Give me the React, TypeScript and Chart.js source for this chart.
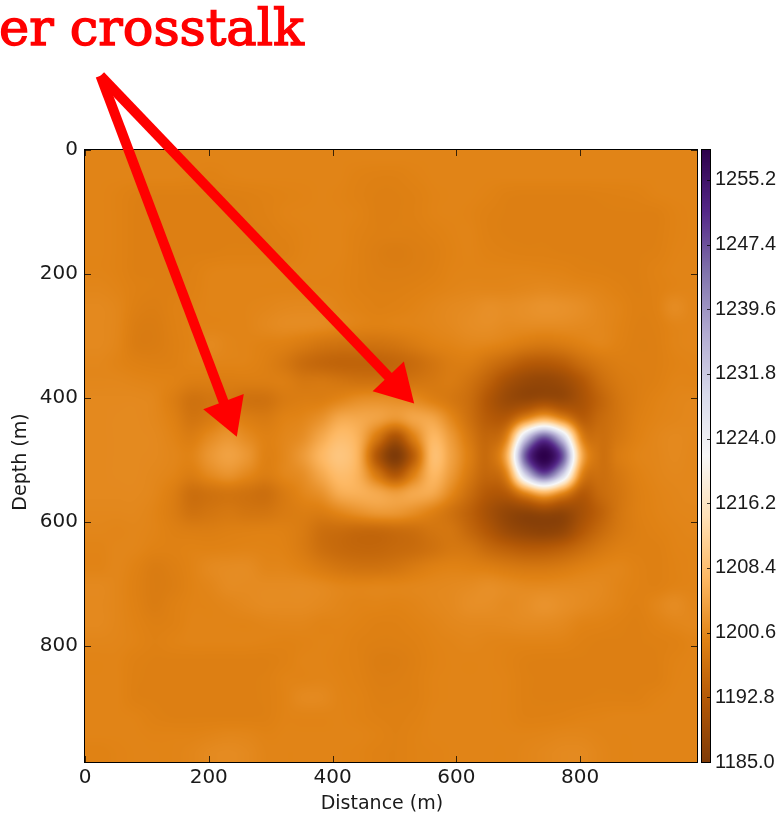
import { useEffect, useRef } from "react";
import { Chart, registerables } from "chart.js";

Chart.register(...registerables);

const TITLE = "er crosstalk";
const X_TICKS = [0, 200, 400, 600, 800];
const Y_TICKS = [0, 200, 400, 600, 800];
const CBAR_TICKS = [1185, 1192.8, 1200.6, 1208.4, 1216.2, 1224, 1231.8, 1239.6, 1247.4, 1255.2];
const X_MAX = 989;
const Y_MAX = 988;
const V_MIN = 1185;
const V_MAX = 1258.8;

// PuOr colormap stops
const COLOR_STOPS = ["#7f3b08", "#b35806", "#e08214", "#fdb863", "#fee0b6", "#f7f7f7", "#d8daeb", "#b2abd2", "#8073ac", "#542788", "#2d004b"];

// Sample positions of the velocity model (m)
const GRID_X = [22, 52, 82, 112, 142, 172, 202, 232, 262, 292, 322, 352, 382, 412, 442, 472, 502, 532, 562, 592, 622, 652, 682, 712, 742, 772, 802, 832, 862, 892, 922, 952, 982];
const GRID_Y = [14, 44, 74, 104, 134, 164, 194, 224, 254, 284, 314, 344, 374, 404, 434, 464, 494, 524, 554, 584, 614, 644, 674, 704, 734, 764, 794, 824, 854, 884, 914, 944, 974];
const BASE_VELOCITY = 1200;
// Velocity, relative to BASE_VELOCITY; one row per GRID_Y entry
const VELOCITY_ROWS = [
  [0,0,0,0,0,0,0,0,0,0,0,0,0,0,0,0,0,0,0,0,0,0,0,0,0,0,0,0,0,0,0,0,0],
  [0,0,0,0,0,-.1,-.3,-.1,0,0,0,0,0,0,-.3,-.5,-.5,-.2,0,0,0,0,0,0,0,0,0,0,0,0,0,0,0],
  [0,-.2,-.6,-.7,-.7,-.7,-.7,-.7,-.6,-.4,-.2,-.1,0,-.1,-.4,-.7,-.7,-.5,-.1,0,0,-.2,-.6,-.7,-.7,-.7,-.7,-.6,-.5,-.4,-.1,0,0],
  [0,-.2,-.7,-.7,-.7,-.7,-.7,-.7,-.7,-.5,-.1,0,0,0,-.2,-.7,-.7,-.5,-.1,0,-.1,-.5,-.7,-.7,-.7,-.7,-.7,-.7,-.7,-.7,-.7,-.2,0],
  [0,-.2,-.7,-.7,-.7,-.7,-.7,-.7,-.7,-.7,-.4,-.1,0,0,-.4,-.7,-.7,-.7,-.4,-.1,0,-.5,-.7,-.7,-.7,-.7,-.7,-.7,-.7,-.7,-.7,-.2,0],
  [0,-.2,-.7,-.7,-.7,-.7,-.7,-.6,-.6,-.6,-.6,-.1,0,0,-.5,-1,-1.3,-1,-.7,-.2,0,-.3,-.5,-.6,-.6,-.7,-.7,-.7,-.7,-.7,-.6,-.1,0],
  [0,-.2,-.7,-.7,-.7,-.5,-.1,0,0,0,0,0,0,-.1,-.5,-.9,-1,-.9,-.6,-.1,0,0,0,0,-.1,-.2,-.5,-.6,-.7,-.7,-.3,0,0],
  [.3,0,-.5,-.7,-.7,-.4,0,0,0,0,0,0,0,-.1,-.5,-.7,-.7,-.5,-.2,.1,.3,.3,.3,.5,.7,.5,.3,0,-.4,-.7,-.4,0,.1],
  [.7,.3,-.7,-1,-.5,-.2,0,0,.1,.3,.6,.7,.6,.1,-.2,-.5,-.4,-.1,.3,.7,1,1.5,1.3,1.6,2,1.8,1.3,.5,0,-.6,-.4,1,.2],
  [.7,.3,-1.1,-1.3,-.6,-.1,0,0,.1,.6,1,1,.8,.3,-.2,-.4,-.2,0,.3,.7,1.2,1.4,1,1,1,1,.8,.5,-.1,-.7,-.6,.1,.2],
  [.7,.2,-1.2,-1.3,-.7,-.1,.7,.2,0,-.3,-.6,-1.5,-2.5,-3,-3,-3,-2.5,-1.5,-.5,0,.4,.2,-.5,-1.5,-2,-1.5,-.5,.2,-.3,-.8,-.7,0,.2],
  [.4,0,-.5,-.7,-.6,-.1,0,0,-.1,-.7,-2,-4,-5,-5.5,-5.5,-5.5,-5,-4,-2.5,-1.2,-1.2,-3,-5,-7,-7.5,-6.5,-4,-2,-1,-.8,-.7,-.2,0],
  [.4,.4,.2,0,-.3,-1,-1,-1,-1,-1,-1,-2,-2,-2.5,-3,-3,-3,-2.5,-2,-1.5,-3,-6,-9.5,-11.5,-12,-11,-8,-4,-1.8,-1,-.6,0,0],
  [.7,.7,.7,.4,-1,-3,-2.5,-2,-3,-3,-1.5,-1,-.8,.3,1.5,1.8,1.5,1,-.5,-2,-4,-8,-11,-11.5,-10.5,-11,-9,-5.5,-2.5,-1,-.2,.2,.4],
  [.7,.8,.8,.5,-.5,-2.5,-1.5,0,-1,-1.5,-.3,.3,2,5,5,4,2.5,4.5,4.5,.5,-3.5,-7,-7,.5,6.5,.5,-6.5,-4.5,-2.5,-.7,0,.3,.5],
  [.7,.8,.8,.7,0,-1,1,2.5,1,-.4,.3,1.5,5,8,6,-2,-9,-.5,7,3,-2,-5,.5,31,47,31,.5,-3.5,-2,-.4,.3,.7,.5],
  [.7,.8,.8,.7,.3,0,2.5,4,2.5,-.4,.5,3,7,9.5,6,-8,-15,-6,8,4,-1,-4,6.5,47,58.8,47,6.5,-3,-1.2,0,.3,.7,.4],
  [.7,.8,.8,.5,0,-1,.8,2,.5,-1,.3,1.5,5,8,6,-2,-8,-.5,7,3,-2,-5,.5,31,47,31,.5,-3.5,-2,-.4,.2,.5,.4],
  [.7,.7,.7,.3,-1,-3.5,-3,-2.5,-3,-3.5,-1.5,.3,2,5.5,6,5,3.5,5,5,.5,-4,-7.5,-7,.5,6.5,.5,-7,-4.5,-2.5,-.7,0,.3,.5],
  [.5,.5,.5,0,-1.2,-3,-2.5,-2,-2.5,-2.5,-1.5,-1,-1,.5,2,3,2.8,1.5,-.5,-3,-6,-9.5,-12,-12.5,-11.5,-12,-9.5,-6,-2.5,-.7,-.1,.2,.3],
  [.3,.2,.3,0,-.6,-1,-1,-.7,-.6,-.5,-.6,-1.5,-3.5,-4,-4.5,-4.5,-4,-3.5,-2.5,-2.5,-5,-8,-11,-12.5,-13,-12,-8,-4.5,-2,-.8,-.3,0,.2],
  [0,.3,.2,-.3,-.4,-.2,-.2,-.1,0,-.1,-.3,-1.5,-3.5,-4.5,-5,-5,-4.5,-4,-3,-2,-2.5,-4.5,-6,-7,-7,-6,-4,-2,-.8,-.6,-.6,-.1,0],
  [0,.3,-.3,-1.2,-.8,-.1,.7,1,1,.3,.2,-.4,-1.5,-2.5,-3,-3,-2.5,-1.5,-.6,-.2,-.4,-.8,-1.5,-2,-2,-1.5,-.6,0,.2,-.3,-.6,-.2,0],
  [.7,.3,-.5,-1.3,-1,-.2,.3,1,1,1,1,1,.7,.2,0,.1,.1,.3,.5,.7,1,1.4,1,.7,.7,.8,.8,.7,.1,-.3,-.5,-.1,0],
  [.7,.3,-.4,-1.2,-.6,-.1,0,.3,.7,1,1,1,.7,.3,0,0,-.1,.1,.5,.8,1.4,1.4,1,1.4,2,1.5,1,.5,0,-.5,.2,1,.3],
  [.7,.3,-.2,-.7,-.5,0,0,0,0,.2,.3,.3,0,0,-.2,-.5,-.5,-.2,.1,.5,.7,.7,.8,1,1,.7,0,-.2,-.5,-.7,-.2,.3,.5],
  [.3,.2,-.1,-.5,-.2,0,0,0,0,-.1,-.2,-.1,0,-.1,-.5,-.7,-.7,-.5,-.1,.1,.3,.1,0,0,0,-.1,-.5,-.7,-.7,-.7,-.6,-.4,0],
  [0,0,-.5,-.7,-.7,-.7,-.7,-.7,-.7,-.7,-.4,0,0,-.2,-.5,-1.1,-1.1,-.7,-.2,0,0,0,-.2,-.6,-.7,-.7,-.7,-.7,-.7,-.7,-.7,-.2,0],
  [0,0,-.6,-.7,-.7,-.7,-.7,-.7,-.7,-.6,-.1,0,.1,-.1,-.4,-.9,-.9,-.6,-.1,0,0,0,-.1,-.6,-.7,-.7,-.7,-.7,-.7,-.7,-.7,-.1,0],
  [0,0,-.6,-.7,-.7,-.7,-.7,-.7,-.7,-.6,-.1,.7,.7,0,-.2,-.7,-.7,-.6,-.1,0,0,0,-.1,-.6,-.7,-.7,-.7,-.6,-.6,-.6,-.2,0,0],
  [0,0,-.1,-.5,-.7,-.7,-.7,-.7,-.7,-.6,-.1,0,0,0,-.2,-.5,-.6,-.4,0,0,0,0,-.1,-.5,-.5,-.4,-.2,-.1,0,0,0,0,0],
  [0,0,0,-.1,-.1,-.1,.1,.3,.2,-.1,0,0,0,0,0,-.2,-.5,-.2,0,0,0,0,0,0,.1,.3,.3,.1,0,0,0,0,0],
  [-.3,-.1,0,0,0,.3,.8,1,.7,.1,0,0,0,0,-.1,-.4,-.5,-.2,-.1,0,0,0,0,.2,.5,.8,.8,.3,0,0,0,0,0],
];

// Annotation arrows in data coordinates
const ARROW_START = { x: 25, y: -120 };
const ARROW_A_HEAD = { x: 231, y: 425 };
const ARROW_B_HEAD = { x: 504, y: 380 };
const ARROW_A_ROTATION = 159.3;
const ARROW_B_ROTATION = 136.2;

const RED = "#ff0000";
const TEXT = "#1a1a1a";

const hexRgb = (h: string) => [parseInt(h.slice(1, 3), 16), parseInt(h.slice(3, 5), 16), parseInt(h.slice(5, 7), 16)];
const STOPS_RGB = COLOR_STOPS.map(hexRgb);

function colorAt(v: number) {
  const t = Math.min(1, Math.max(0, (v - V_MIN) / (V_MAX - V_MIN))) * (STOPS_RGB.length - 1);
  const i = Math.min(STOPS_RGB.length - 2, Math.floor(t));
  const f = t - i;
  return [0, 1, 2].map((k) => STOPS_RGB[i][k] + (STOPS_RGB[i + 1][k] - STOPS_RGB[i][k]) * f);
}

const cr = (a: number, b: number, c: number, d: number, t: number) =>
  0.5 * (2 * b + (c - a) * t + (2 * a - 5 * b + 4 * c - d) * t * t + (3 * b - a - 3 * c + d) * t * t * t);

function sampleField(x: number, y: number) {
  const nx = GRID_X.length;
  const ny = GRID_Y.length;
  const stepX = GRID_X[1] - GRID_X[0];
  const stepY = GRID_Y[1] - GRID_Y[0];
  const fx = Math.min(nx - 1, Math.max(0, (x - GRID_X[0]) / stepX));
  const fy = Math.min(ny - 1, Math.max(0, (y - GRID_Y[0]) / stepY));
  const ix = Math.min(nx - 2, Math.floor(fx));
  const iy = Math.min(ny - 2, Math.floor(fy));
  const cx = (k: number) => Math.min(nx - 1, Math.max(0, k));
  const cy = (k: number) => Math.min(ny - 1, Math.max(0, k));
  const rowVal = (j: number) => {
    const r = VELOCITY_ROWS[cy(j)];
    return cr(r[cx(ix - 1)], r[cx(ix)], r[cx(ix + 1)], r[cx(ix + 2)], fx - ix);
  };
  return BASE_VELOCITY + cr(rowVal(iy - 1), rowVal(iy), rowVal(iy + 1), rowVal(iy + 2), fy - iy);
}

const fieldPlugin = {
  id: "field",
  beforeDatasetsDraw(chart: any) {
    const { ctx, chartArea: a, scales } = chart;
    const w = Math.round(a.right - a.left);
    const h = Math.round(a.bottom - a.top);
    const img = ctx.createImageData(w, h);
    for (let py = 0; py < h; py++) {
      const dy = scales.y.getValueForPixel(a.top + py + 0.5);
      for (let px = 0; px < w; px++) {
        const dx = scales.x.getValueForPixel(a.left + px + 0.5);
        const c = colorAt(sampleField(dx, dy));
        const o = (py * w + px) * 4;
        img.data[o] = c[0];
        img.data[o + 1] = c[1];
        img.data[o + 2] = c[2];
        img.data[o + 3] = 255;
      }
    }
    ctx.putImageData(img, a.left, a.top);

    // colour bar, placed along the y2 scale
    const barL = a.right + 5;
    const barW = 8;
    const y2 = scales.y2;
    for (let py = Math.round(a.top); py < a.bottom; py++) {
      const c = colorAt(y2.getValueForPixel(py + 0.5));
      ctx.fillStyle = `rgb(${c[0]},${c[1]},${c[2]})`;
      ctx.fillRect(barL, py, barW, 1);
    }

    ctx.save();
    ctx.strokeStyle = "#000";
    ctx.lineWidth = 1;
    ctx.strokeRect(a.left - 0.5, a.top - 0.5, w + 1, h + 1);
    ctx.strokeRect(barL - 0.5, a.top - 0.5, barW + 1, h + 1);
    ctx.strokeStyle = "rgba(0,0,0,0.75)";
    ctx.beginPath();
    for (const t of X_TICKS) {
      const p = Math.round(scales.x.getPixelForValue(t)) + 0.5;
      ctx.moveTo(p, a.top);
      ctx.lineTo(p, a.top + 6);
      ctx.moveTo(p, a.bottom);
      ctx.lineTo(p, a.bottom - 6);
    }
    for (const t of Y_TICKS) {
      const p = Math.round(scales.y.getPixelForValue(t)) + 0.5;
      ctx.moveTo(a.left, p);
      ctx.lineTo(a.left + 6, p);
      ctx.moveTo(a.right, p);
      ctx.lineTo(a.right - 6, p);
    }
    for (const t of CBAR_TICKS) {
      const p = Math.round(y2.getPixelForValue(t)) + 0.5;
      ctx.moveTo(barL + barW, p);
      ctx.lineTo(barL + barW - 3, p);
    }
    ctx.stroke();
    ctx.restore();
  },
};

const tickFont = { family: "'DejaVu Sans'", size: 20 };
const labelFont = { family: "'DejaVu Sans'", size: 19 };

export default function App() {
  const ref = useRef<HTMLCanvasElement>(null);
  useEffect(() => {
    const arrowLine = (head: { x: number; y: number }) => ({
      type: "scatter" as const,
      data: [ARROW_START, head],
      showLine: true,
      borderColor: RED,
      borderWidth: 10,
      pointRadius: 0,
      clip: false as any,
    });
    const arrowHead = (head: { x: number; y: number }, rotation: number) => ({
      type: "scatter" as const,
      data: [head],
      pointStyle: "triangle",
      pointRadius: 25,
      pointRotation: rotation,
      pointBackgroundColor: RED,
      pointBorderColor: RED,
      pointBorderWidth: 0,
      clip: false as any,
    });
    const chart = new Chart(ref.current!, {
      type: "scatter",
      data: {
        datasets: [
          arrowLine(ARROW_A_HEAD),
          arrowLine(ARROW_B_HEAD),
          arrowHead(ARROW_A_HEAD, ARROW_A_ROTATION),
          arrowHead(ARROW_B_HEAD, ARROW_B_ROTATION),
        ],
      },
      options: {
        animation: false,
        responsive: false,
        events: [],
        layout: { padding: { top: 150, left: 0, right: 0, bottom: 0 } },
        plugins: { legend: { display: false }, tooltip: { enabled: false } },
        scales: {
          x: {
            type: "linear",
            min: 0,
            max: X_MAX,
            grid: { display: false, drawTicks: false },
            border: { display: false },
            afterBuildTicks: (s: any) => { s.ticks = X_TICKS.map((value) => ({ value })); },
            ticks: { autoSkip: false, maxRotation: 0, font: tickFont, color: TEXT, padding: 4 },
            title: { display: true, text: "Distance (m)   ", font: labelFont, color: TEXT, padding: { top: 0, bottom: 0 } },
            afterFit: (s: any) => { s.height = 53; },
          },
          y: {
            type: "linear",
            reverse: true,
            min: 0,
            max: Y_MAX,
            grid: { display: false, drawTicks: false },
            border: { display: false },
            afterBuildTicks: (s: any) => { s.ticks = Y_TICKS.map((value) => ({ value })); },
            ticks: { autoSkip: false, font: tickFont, color: TEXT, padding: 7 },
            title: { display: true, text: "Depth (m)  ", font: labelFont, color: TEXT, padding: { top: 10, bottom: 0 } },
            afterFit: (s: any) => { s.width = 85; },
          },
          y2: {
            type: "linear",
            position: "right",
            min: V_MIN,
            max: V_MAX,
            grid: { display: false, drawTicks: false },
            border: { display: false },
            afterBuildTicks: (s: any) => { s.ticks = CBAR_TICKS.map((value) => ({ value })); },
            ticks: { font: { family: "'Liberation Sans'", size: 20 }, color: TEXT, padding: 18, callback: (v: any) => Number(v).toFixed(1), autoSkip: false },
            afterFit: (s: any) => { s.width = 84; },
          },
        },
      },
      plugins: [fieldPlugin],
    } as any);
    return () => chart.destroy();
  }, []);
  return (
    <div style={{ position: "absolute", left: 0, top: 0, width: 781, height: 815, overflow: "hidden", background: "#fff" }}>
      <canvas ref={ref} width={781} height={815} style={{ display: "block" }} />
      <div style={{ position: "absolute", left: -1, top: -7, fontFamily: "'DejaVu Serif'", fontWeight: 400, fontSize: 51, WebkitTextStroke: "1.4px #ff0000", color: RED, whiteSpace: "nowrap", lineHeight: "70px" }}>
        {TITLE}
      </div>
    </div>
  );
}
